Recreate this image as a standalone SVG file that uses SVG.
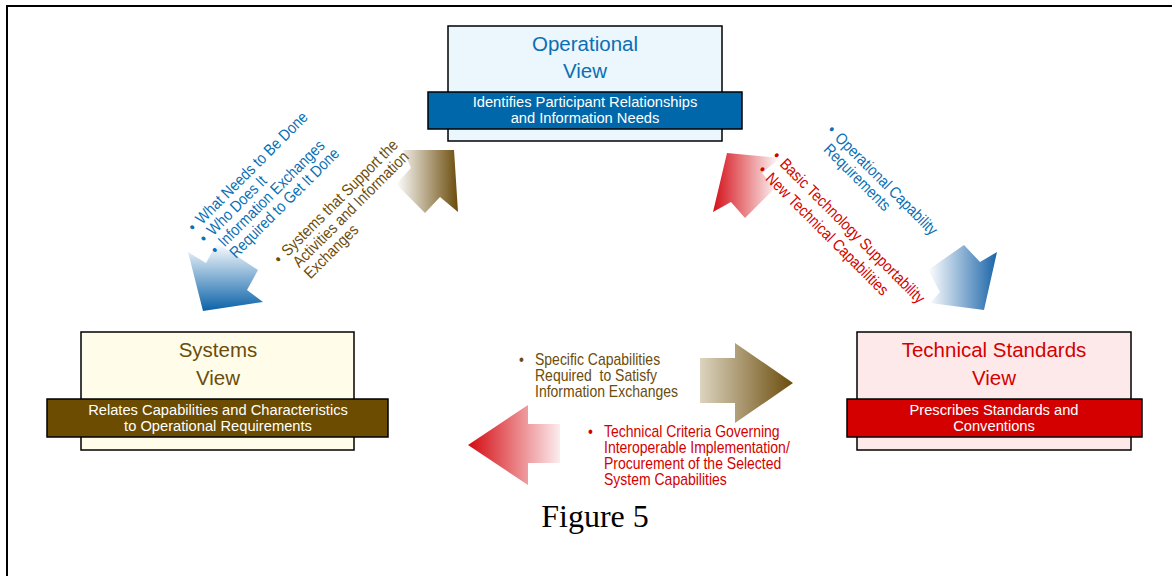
<svg xmlns="http://www.w3.org/2000/svg" width="1172" height="576" viewBox="0 0 1172 576">
<style>
  text { font-family: "Liberation Sans", Arial, sans-serif; }
  .box { stroke: #000; stroke-width: 1.5; }
  .title { font-size: 20.5px; text-anchor: middle; }
  .band { font-size: 15px; fill: #fff; text-anchor: middle; }
  .lbl { font-size: 16px; }
  .blue { fill: #0a6fb4; }
  .brown { fill: #6b4c0c; }
  .red { fill: #d40000; }
  .cap { font-family: "Liberation Serif", "Times New Roman", serif; font-size: 32px; text-anchor: middle; fill: #000; }
</style>
<defs>
  <linearGradient id="gBrownTop" x1="0" y1="0" x2="1" y2="0">
    <stop offset="0" stop-color="#ffffff"/>
    <stop offset="1" stop-color="#6b4c0c"/>
  </linearGradient>
  <linearGradient id="gBlueLeft" x1="0" y1="0" x2="0" y2="1">
    <stop offset="0" stop-color="#ffffff"/>
    <stop offset="1" stop-color="#0a62a8"/>
  </linearGradient>
  <linearGradient id="gRedTop" x1="0" y1="0" x2="1" y2="0">
    <stop offset="0" stop-color="#d41018"/>
    <stop offset="1" stop-color="#ffffff"/>
  </linearGradient>
  <linearGradient id="gBlueRight" x1="0" y1="0" x2="1" y2="0">
    <stop offset="0" stop-color="#ffffff"/>
    <stop offset="1" stop-color="#1a64a8"/>
  </linearGradient>
  <linearGradient id="gBrownBot" x1="0" y1="0" x2="1" y2="0">
    <stop offset="0" stop-color="#dcd4bf"/>
    <stop offset="1" stop-color="#6b4c0c"/>
  </linearGradient>
  <linearGradient id="gRedBot" x1="0" y1="0" x2="1" y2="0">
    <stop offset="0" stop-color="#d40a10"/>
    <stop offset="1" stop-color="#fcecee"/>
  </linearGradient>
</defs>

<rect width="1172" height="576" fill="#fff"/>
<path d="M7 576 V6 H1172" fill="none" stroke="#000" stroke-width="2"/>

<g id="operational">
  <rect class="box" x="448" y="26" width="274" height="115" fill="#ebf6fd"/>
  <text class="title blue" x="585" y="51">Operational</text>
  <text class="title blue" x="585" y="78">View</text>
  <rect class="box" x="428" y="92" width="314" height="37" fill="#0068aa"/>
  <g transform="translate(585,0) scale(0.98,1)">
    <text class="band" x="0" y="107.5">Identifies Participant Relationships</text>
    <text class="band" x="0" y="123">and Information Needs</text>
  </g>
</g>

<g id="systems">
  <rect class="box" x="81" y="332" width="273" height="118" fill="#fffde9"/>
  <text class="title brown" x="218" y="357">Systems</text>
  <text class="title brown" x="218" y="385">View</text>
  <rect class="box" x="47" y="399" width="341" height="38" fill="#6b4c00"/>
  <g transform="translate(218,0) scale(0.98,1)">
    <text class="band" x="0" y="415">Relates Capabilities and Characteristics</text>
    <text class="band" x="0" y="431">to Operational Requirements</text>
  </g>
</g>

<g id="technical">
  <rect class="box" x="857" y="332" width="274" height="118" fill="#fde9ea"/>
  <text class="title red" x="994" y="357">Technical Standards</text>
  <text class="title red" x="994" y="385">View</text>
  <rect class="box" x="847" y="399" width="295" height="38" fill="#d40000"/>
  <g transform="translate(994,0) scale(0.98,1)">
    <text class="band" x="0" y="415">Prescribes Standards and</text>
    <text class="band" x="0" y="431">Conventions</text>
  </g>
</g>

<g id="connectors">
  <polygon points="454,150 458,212 440,197 425,213 396,184 411,168 403,150" fill="url(#gBrownTop)"/>
  <polygon points="203,311 188,252 206,263 217,243 258,270 247,290 263,302" fill="url(#gBlueLeft)"/>
  <polygon points="727,153 780,158 762,173 775,188 745,218 731,202 713,212" fill="url(#gRedTop)"/>
  <polygon points="964,245 980,262 997,252 984,310 930,303 940,292 928,270" fill="url(#gBlueRight)"/>
  <polygon points="700,358 735,358 735,343 793,383 735,423 735,403 700,403" fill="url(#gBrownBot)"/>
  <polygon points="560,424 528,424 528,405 468,445 528,485 528,463 560,463" fill="url(#gRedBot)"/>
</g>

<g id="labels">
  <g transform="translate(202,225) rotate(-45) scale(0.875,1)" class="lbl blue">
    <text x="-12.6" y="0">•</text><text x="0" y="0">What Needs to Be Done</text>
    <text x="-12.6" y="16">•</text><text x="0" y="16">Who Does It</text>
    <text x="-12.6" y="32">•</text><text x="0" y="32">Information Exchanges</text>
    <text x="0" y="48">Required to Get It Done</text>
  </g>
  <g transform="translate(288,257) rotate(-45) scale(0.875,1)" class="lbl brown">
    <text x="-12.6" y="0">•</text><text x="0" y="0">Systems that Support the</text>
    <text x="0" y="16">Activities and Information</text>
    <text x="0" y="32">Exchanges</text>
  </g>
  <g transform="translate(834,139) rotate(45) scale(0.875,1)" class="lbl blue">
    <text x="-12.6" y="0">•</text><text x="0" y="0">Operational Capability</text>
    <text x="0" y="16">Requirements</text>
  </g>
  <g transform="translate(779,165) rotate(45) scale(0.875,1)" class="lbl red">
    <text x="-12.6" y="0">•</text><text x="0" y="0">Basic Technology Supportability</text>
    <text x="-12.6" y="20">•</text><text x="0" y="20">New Technical Capabilities</text>
  </g>
  <g transform="translate(535,365) scale(0.875,1)" class="lbl brown">
    <text x="-18.3" y="0">•</text>
    <text x="0" y="0">Specific Capabilities</text>
    <text x="0" y="16" style="white-space:pre">Required  to Satisfy</text>
    <text x="0" y="32">Information Exchanges</text>
  </g>
  <g transform="translate(604,437) scale(0.875,1)" class="lbl red">
    <text x="-18.3" y="0">•</text>
    <text x="0" y="0">Technical Criteria Governing</text>
    <text x="0" y="16">Interoperable Implementation/</text>
    <text x="0" y="32">Procurement of the Selected</text>
    <text x="0" y="48">System Capabilities</text>
  </g>
  <text class="cap" x="595" y="527">Figure 5</text>
</g>
</svg>
